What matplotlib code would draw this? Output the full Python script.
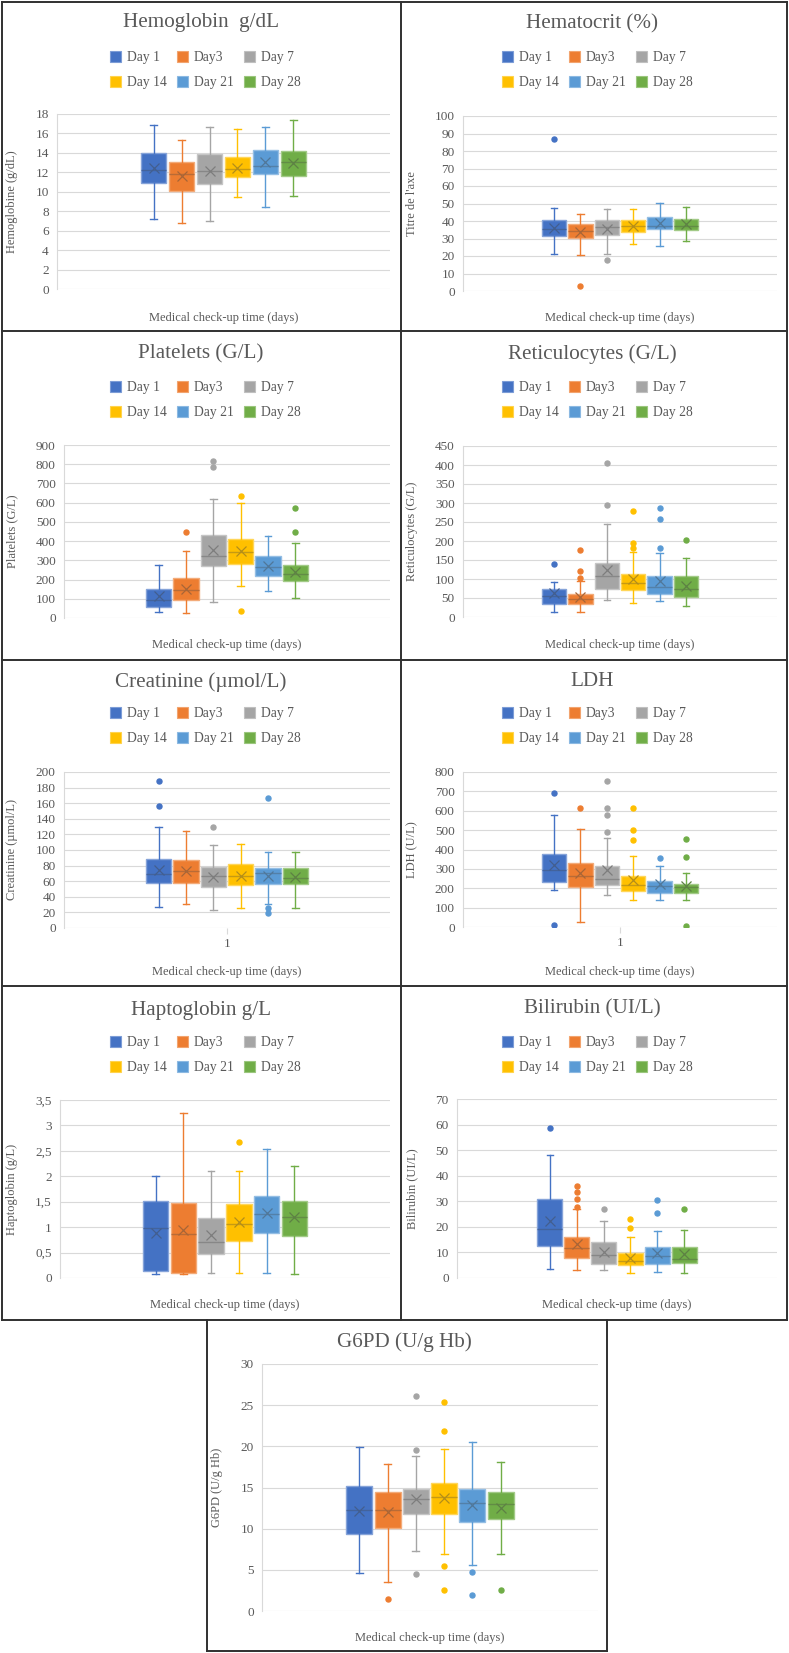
import numpy as np
import matplotlib
matplotlib.use("Agg")
import matplotlib.pyplot as plt
import matplotlib.colors as mcolors
from matplotlib.patches import Patch
from matplotlib.lines import Line2D
from matplotlib.ticker import FuncFormatter

plt.rcParams['font.family'] = ['Liberation Serif', 'DejaVu Serif']

W, H, DPI = 789, 1653, 100

days = ["Day 1", "Day3", "Day 7", "Day 14", "Day 21", "Day 28"]
colors = ["#4472C4", "#ED7D31", "#A5A5A5", "#FFC000", "#5B9BD5", "#70AD47"]

# ---------------- data ----------------
hgb_low = [7.2, 6.8, 7.0, 9.45, 8.4, 9.55]
hgb_q1 = [10.9, 10.07, 10.76, 11.5, 11.79, 11.6]
hgb_med = [12.25, 11.8, 12.15, 12.3, 12.65, 13.05]
hgb_q3 = [13.95, 13.06, 13.88, 13.6, 14.33, 14.23]
hgb_high = [16.84, 15.3, 16.7, 16.5, 16.67, 17.42]
hgb_mean = [12.4, 11.65, 12.13, 12.47, 13.02, 13.0]
hgb_out = [[], [], [], [], [], []]

hct_low = [21.0, 20.6, 21.3, 27.0, 25.9, 28.8]
hct_q1 = [31.6, 30.3, 32.2, 33.5, 35.2, 35.0]
hct_med = [35.4, 34.1, 36.6, 37.0, 37.0, 37.3]
hct_q3 = [40.8, 38.1, 40.6, 40.6, 42.1, 41.1]
hct_high = [47.6, 43.8, 46.7, 46.7, 50.3, 48.0]
hct_mean = [36.2, 33.5, 35.4, 37.3, 39.0, 38.3]
hct_out = [[87.0], [2.7], [17.9], [], [], []]

plt_low = [33, 28, 83, 165, 141, 106]
plt_q1 = [57, 96, 268, 283, 217, 191]
plt_med = [95, 148, 320, 342, 264, 229]
plt_q3 = [149, 208, 431, 413, 320, 278]
plt_high = [274, 349, 620, 596, 424, 391]
plt_mean = [112, 153, 353, 351, 269, 240]
plt_out = [[], [448], [817, 785], [634, 35], [], [573, 445]]

ret_low = [13, 13, 45, 36, 41, 29]
ret_q1 = [34, 34, 73, 72, 60, 52]
ret_med = [54, 48, 107, 89, 80, 74]
ret_q3 = [74, 60, 142, 114, 109, 107]
ret_high = [92, 96, 244, 170, 169, 156]
ret_mean = [63, 52, 123, 100, 96, 82]
ret_out = [[140], [176, 120, 103], [405, 295], [280, 195, 181], [287, 257, 181], [202]]

cre_low = [27.5, 31, 23, 26, 30.5, 26]
cre_q1 = [58, 58, 53, 55, 57, 56]
cre_med = [69.5, 72.5, 66.5, 66.5, 70, 63.5]
cre_q3 = [89, 87, 78, 82, 76.4, 76.4]
cre_high = [130, 124, 107, 108, 97, 97]
cre_mean = [74, 73.4, 66, 66.5, 67, 65]
cre_out = [[189, 156], [], [130], [], [167, 26, 19.5], []]

ldh_low = [193, 26, 163, 138, 141, 141]
ldh_q1 = [232, 206, 217, 184, 177, 177]
ldh_med = [292, 262, 246, 218, 210, 206]
ldh_q3 = [378, 332, 315, 265, 239, 224]
ldh_high = [576, 504, 459, 368, 315, 279]
ldh_mean = [318, 280, 296, 241, 220, 210]
ldh_out = [[692, 8], [614], [753, 614, 580, 492], [614, 499, 447], [358], [456, 361, 5]]

hap_low = [0.07, 0.08, 0.1, 0.1, 0.1, 0.08]
hap_q1 = [0.13, 0.1, 0.47, 0.72, 0.89, 0.83]
hap_med = [0.975, 0.86, 0.70, 1.07, 1.26, 1.2]
hap_q3 = [1.52, 1.48, 1.17, 1.45, 1.62, 1.52]
hap_high = [2.0, 3.24, 2.1, 2.1, 2.53, 2.2]
hap_mean = [0.89, 0.94, 0.84, 1.11, 1.28, 1.19]
hap_out = [[], [], [], [2.68], [], []]

bil_low = [3.5, 3.2, 3.0, 2.0, 2.5, 2.0]
bil_q1 = [12.6, 8.0, 5.5, 5.0, 5.5, 6.0]
bil_med = [19.1, 11.6, 9.0, 6.8, 8.6, 7.6]
bil_q3 = [30.7, 15.9, 14.2, 9.6, 12.1, 12.1]
bil_high = [48.0, 27.0, 22.4, 16.2, 18.2, 18.6]
bil_mean = [22.4, 13.3, 10.1, 8.0, 9.6, 9.3]
bil_out = [[58.6], [35.8, 33.7, 30.7, 27.8], [27.0], [23.0, 19.5], [30.5, 25.4], [27.0]]

g6_low = [4.66, 3.57, 7.3, 6.97, 5.63, 6.97]
g6_q1 = [9.32, 10.1, 11.75, 11.84, 10.86, 11.19]
g6_med = [12.32, 12.24, 13.58, 13.9, 13.1, 13.0]
g6_q3 = [15.16, 14.43, 14.84, 15.57, 14.84, 14.5]
g6_high = [19.86, 17.84, 18.77, 19.7, 20.55, 18.04]
g6_mean = [12.2, 12.0, 13.58, 13.7, 12.9, 12.57]
g6_out = [[], [1.5], [26.1, 19.6, 4.5], [25.4, 21.9, 5.43, 2.55], [4.78, 1.95], [2.55]]

# ---------------- helpers ----------------
TXT = '#595959'
GRID = '#D9D9D9'


def blend(c, other, t):
    a = np.array(mcolors.to_rgb(c))
    b = np.array(mcolors.to_rgb(other))
    return tuple(a * (1 - t) + b * t)


fig = plt.figure(figsize=(W / DPI, H / DPI), dpi=DPI)
fig.patch.set_facecolor('white')


def fx(px):
    return px / W


def fy(py):
    return 1 - py / H


def add_ax(x0, y0, x1, y1):
    return fig.add_axes([fx(x0), fy(y1), (x1 - x0) / W, (y1 - y0) / H])


def panel(rect, ymax, ystep, data, title, title_xy, ylabel, ylabel_x,
          xlabel_y, legend_xy=None, xtick_y=None, comma=False):
    low, q1, med, q3, high, mean, out = data
    x0, y0, x1, y1 = rect
    ax = add_ax(*rect)
    for i in range(6):
        c = colors[i]
        st = dict(med=med[i], q1=q1[i], q3=q3[i], whislo=low[i], whishi=high[i],
                  mean=mean[i], fliers=out[i], label=days[i])
        ax.bxp([st], positions=[i], widths=0.92, capwidths=0.24, showmeans=True,
               patch_artist=True,
               boxprops=dict(facecolor=c, edgecolor=blend(c, 'white', 0.35), linewidth=1.0),
               medianprops=dict(color=blend(c, '#404040', 0.3), linewidth=1.0),
               whiskerprops=dict(color=c, linewidth=1.0),
               capprops=dict(color=c, linewidth=1.0),
               meanprops=dict(marker='x', markeredgecolor=blend(c, '#404040', 0.4),
                              markersize=7, markeredgewidth=0.9),
               flierprops=dict(marker='o', markerfacecolor=c, markeredgecolor=c,
                               markersize=3.6))
    ax.set_xlim(2.5 - 5.95, 2.5 + 5.95)
    ax.set_ylim(0, ymax)
    ticks = np.arange(0, ymax + ystep / 2, ystep)
    ax.set_yticks(ticks)
    if comma:
        ax.yaxis.set_major_formatter(FuncFormatter(
            lambda v, p: ('%g' % round(v, 2)).replace('.', ',')))
    ax.grid(axis='y', color=GRID, linewidth=0.8)
    ax.set_axisbelow(True)
    for s in ['top', 'right', 'bottom']:
        ax.spines[s].set_visible(False)
    ax.spines['left'].set_color(GRID)
    ax.spines['left'].set_linewidth(0.8)
    ax.tick_params(axis='y', length=0, pad=6, labelsize=9.5, labelcolor=TXT)
    if xtick_y is not None:
        ax.set_xticks([2.5])
        ax.set_xticklabels(['1'])
        ax.tick_params(axis='x', length=4, color=GRID, pad=3,
                       labelsize=9.5, labelcolor=TXT)
    else:
        ax.set_xticks([])
    # labels
    ax.set_ylabel(ylabel, fontsize=9, color=TXT)
    ax.yaxis.set_label_coords((ylabel_x - x0) / (x1 - x0), 0.5)
    ax.set_xlabel('Medical check-up time (days)', fontsize=9, color=TXT)
    ax.xaxis.set_label_coords(0.5, -(xlabel_y - y1) / (y1 - y0))
    ax.xaxis.label.set_verticalalignment('center')
    fig.text(fx(title_xy[0]), fy(title_xy[1]), title, ha='center', va='center',
             fontsize=15.2, color=TXT)
    if legend_xy is not None:
        handles = [Patch(facecolor=c, edgecolor=blend(c, 'white', 0.3), linewidth=0.8)
                   for c in colors]
        order = [0, 3, 1, 4, 2, 5]
        fig.legend([handles[k] for k in order], [days[k] for k in order],
                   loc='center', bbox_to_anchor=(fx(legend_xy[0]), fy(legend_xy[1])),
                   ncol=3, frameon=False, fontsize=9.8, labelcolor=TXT,
                   handlelength=0.85, handleheight=0.85, handletextpad=0.4,
                   columnspacing=0.75, labelspacing=0.85, borderpad=0,
                   borderaxespad=0)
    return ax


panel((57, 114, 390, 289), 18, 2,
      (hgb_low, hgb_q1, hgb_med, hgb_q3, hgb_high, hgb_mean, hgb_out),
      'Hemoglobin  g/dL', (201, 23), 'Hemoglobine (g/dL)', 18, 318, (205, 70))
panel((463, 116, 777, 291), 100, 10,
      (hct_low, hct_q1, hct_med, hct_q3, hct_high, hct_mean, hct_out),
      'Hematocrit (%)', (592, 24), "Titre de l'axe", 418, 318, (597, 70))
panel((64, 445, 390, 618), 900, 100,
      (plt_low, plt_q1, plt_med, plt_q3, plt_high, plt_mean, plt_out),
      'Platelets (G/L)', (201, 354), 'Platelets (G/L)', 18, 645, (205, 400))
panel((463, 446, 777, 617), 450, 50,
      (ret_low, ret_q1, ret_med, ret_q3, ret_high, ret_mean, ret_out),
      'Reticulocytes (G/L)', (592, 354), 'Reticulocytes (G/L)', 418, 645, (597, 400))
panel((64, 772, 390, 928), 200, 20,
      (cre_low, cre_q1, cre_med, cre_q3, cre_high, cre_mean, cre_out),
      'Creatinine (\u00b5mol/L)', (201, 682), 'Creatinine (\u00b5mol/L)', 18, 972,
      (205, 726), xtick_y=944)
panel((463, 772, 777, 927), 800, 100,
      (ldh_low, ldh_q1, ldh_med, ldh_q3, ldh_high, ldh_mean, ldh_out),
      'LDH', (592, 681), 'LDH (U/L)', 418, 972, (597, 726), xtick_y=944)
panel((60, 1100, 390, 1278), 3.5, 0.5,
      (hap_low, hap_q1, hap_med, hap_q3, hap_high, hap_mean, hap_out),
      'Haptoglobin g/L', (201, 1010), 'Haptoglobin (g/L)', 18, 1305, (205, 1055),
      comma=True)
panel((457, 1099, 777, 1278), 70, 10,
      (bil_low, bil_q1, bil_med, bil_q3, bil_high, bil_mean, bil_out),
      'Bilirubin (UI/L)', (592, 1009), 'Bilirubin (UI/L)', 418, 1305, (597, 1055))
panel((262, 1364, 598, 1611), 30, 5,
      (g6_low, g6_q1, g6_med, g6_q3, g6_high, g6_mean, g6_out),
      'G6PD (U/g Hb)', (404, 1342), 'G6PD (U/g Hb)', 223, 1638)

# ---------------- panel borders ----------------
BC = '#303030'
BLW = 1.4


def hline(y, xa, xb):
    fig.add_artist(Line2D([fx(xa), fx(xb)], [fy(y), fy(y)], color=BC, lw=BLW))


def vline(x, ya, yb):
    fig.add_artist(Line2D([fx(x), fx(x)], [fy(ya), fy(yb)], color=BC, lw=BLW))


hline(2, 2, 787)
for yy in (331, 660, 986, 1320):
    hline(yy, 2, 787)
vline(2, 2, 1320)
vline(787, 2, 1320)
vline(401, 2, 1320)
vline(207, 1320, 1651)
vline(607, 1320, 1651)
hline(1651, 207, 607)

fig.savefig('out.png', dpi=DPI)
